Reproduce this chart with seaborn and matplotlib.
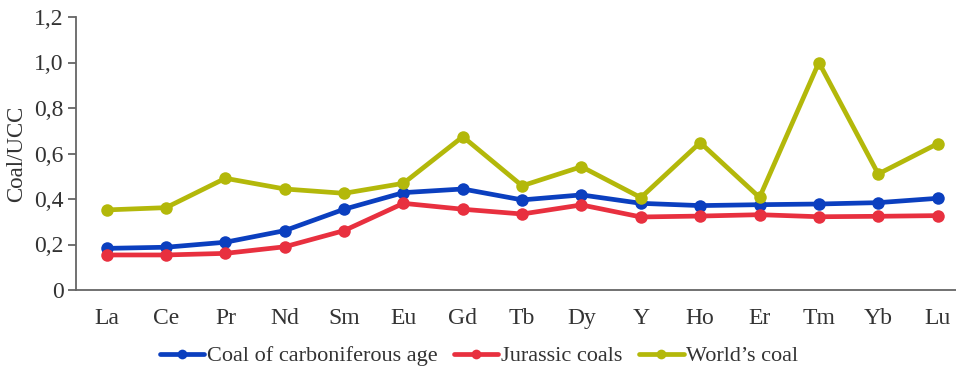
import matplotlib
matplotlib.use("Agg")
import matplotlib.pyplot as plt
import seaborn as sns
import pandas as pd

elements = ["La", "Ce", "Pr", "Nd", "Sm", "Eu", "Gd", "Tb", "Dy", "Y",
            "Ho", "Er", "Tm", "Yb", "Lu"]
carboniferous = [0.183, 0.188, 0.210, 0.261, 0.355, 0.428, 0.444, 0.396,
                 0.418, 0.381, 0.371, 0.375, 0.378, 0.384, 0.403]
jurassic = [0.154, 0.154, 0.161, 0.190, 0.261, 0.381, 0.355, 0.334,
            0.374, 0.321, 0.325, 0.331, 0.322, 0.324, 0.327]
world = [0.352, 0.362, 0.491, 0.444, 0.425, 0.469, 0.674, 0.458,
         0.542, 0.406, 0.648, 0.407, 1.000, 0.510, 0.643]
series_names = ["Coal of carboniferous age", "Jurassic coals", "World\u2019s coal"]
colors = ["#0b3fbf", "#e8303f", "#b3b80a"]

df = pd.concat([
    pd.DataFrame({"element": elements, "value": vals, "series": name})
    for name, vals in zip(series_names, [carboniferous, jurassic, world])
])
df["x"] = df["element"].map({e: i for i, e in enumerate(elements)})

sns.set_theme(style="white")
plt.rcParams["font.family"] = ["Liberation Serif", "DejaVu Serif"]

fig = plt.figure(figsize=(9.56, 3.70), dpi=100)
ax = fig.add_axes([76 / 956, 80 / 370, 1 - 76 / 956, 273 / 370])

sns.lineplot(data=df, x="x", y="value", hue="series", hue_order=series_names,
             palette=colors, marker="o", markersize=9, markeredgewidth=0,
             linewidth=3.4, ax=ax, legend=False, sort=False)

ax.set_xlim(-0.517, 14.31)
ax.set_ylim(0, 1.2)
ax.set_xticks(range(len(elements)))
ax.set_xticklabels(elements)
yt = [0, 0.2, 0.4, 0.6, 0.8, 1.0, 1.2]
ax.set_yticks(yt)
ax.set_yticklabels(["0"] + [f"{v:.1f}".replace(".", ",") for v in yt[1:]])
ax.set_xlabel("")
ax.set_ylabel("Coal/UCC", fontsize=16.5, color="#333333", labelpad=5)

for side in ["top", "right"]:
    ax.spines[side].set_visible(False)
for side in ["left", "bottom"]:
    ax.spines[side].set_color("#666666")
    ax.spines[side].set_linewidth(1.3)
ax.tick_params(axis="y", which="major", left=True, length=6, width=1.3,
               color="#666666", labelsize=17, labelcolor="#333333", pad=3)
ax.tick_params(axis="x", bottom=False, labelsize=17, labelcolor="#333333", pad=7)

handles = [plt.Line2D([], [], color=c, marker="o", markersize=7, linewidth=3.4,
                      markeredgewidth=0) for c in colors]
fig.legend(handles, series_names, loc="center", bbox_to_anchor=(479 / 956, 1 - 356 / 370),
           ncol=3, frameon=False, fontsize=16, handlelength=2.0, handletextpad=0.12,
           columnspacing=0.75, labelcolor="#333333")

fig.savefig("out.png", dpi=100)
